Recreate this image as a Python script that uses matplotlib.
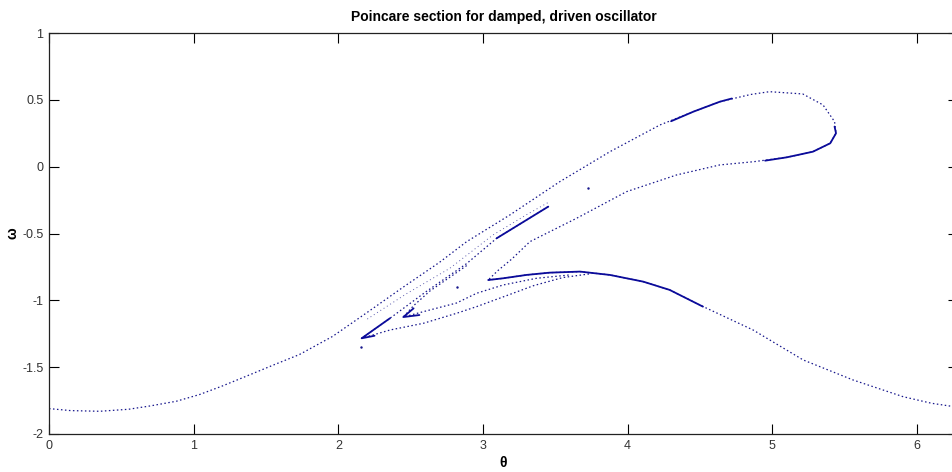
import matplotlib
matplotlib.use("Agg")
import matplotlib.pyplot as plt
import numpy as np

plt.rcParams['font.family'] = ['Liberation Sans', 'DejaVu Sans']

# ---- traced data (theta, omega) ----
# outer branch: from theta=0 up through the upper loop, back down to the first cusp
rise_theta = [0.00, 0.15, 0.35, 0.55, 0.70, 0.88, 1.04, 1.20, 1.39, 1.56, 1.73, 1.96,
              2.20, 2.45, 2.70, 2.887, 3.186, 3.531, 3.877, 4.223, 4.453, 4.637, 4.85,
              4.98, 5.21, 5.35, 5.43, 5.44, 5.40, 5.28, 5.10, 4.87, 4.637, 4.338, 3.992,
              3.647, 3.324, 3.20, 3.10, 3.036]
rise_omega = [-1.810, -1.825, -1.830, -1.815, -1.790, -1.755, -1.705, -1.640, -1.556,
              -1.480, -1.406, -1.270, -1.090, -0.900, -0.715, -0.561, -0.361, -0.112,
              0.112, 0.312, 0.411, 0.486, 0.540, 0.561, 0.544, 0.462, 0.337, 0.250,
              0.175, 0.112, 0.070, 0.037, 0.013, -0.062, -0.187, -0.386, -0.561, -0.690,
              -0.780, -0.848]

# bump: from first cusp to theta = 2*pi
bump_theta = [3.036, 3.14, 3.30, 3.46, 3.67, 3.877, 4.107, 4.29, 4.522, 4.867, 5.213,
              5.558, 5.904, 6.10, 6.283]
bump_omega = [-0.848, -0.835, -0.810, -0.793, -0.785, -0.810, -0.860, -0.922, -1.047,
              -1.222, -1.446, -1.596, -1.721, -1.770, -1.800]

# inner fold (third cusp): tip -> cusp -> lower return
fold3_theta = [3.451, 3.094, 2.887, 2.60, 2.357, 2.161, 2.357, 2.587, 2.817, 2.956,
               3.15, 3.35, 3.55, 3.75]
fold3_omega = [-0.299, -0.536, -0.725, -0.940, -1.134, -1.284, -1.222, -1.172, -1.097,
               -1.047, -0.970, -0.890, -0.830, -0.800]

# second cusp fold
fold2_theta = [2.887, 2.633, 2.52, 2.449, 2.587, 2.817, 2.956, 3.14, 3.37, 3.60]
fold2_omega = [-0.740, -0.930, -1.040, -1.125, -1.085, -1.020, -0.947, -0.885, -0.835,
               -0.810]

# faint strand between the outer branch and the inner fold
strand_theta = [2.20, 2.472, 2.771, 3.07, 3.30, 3.46]
strand_omega = [-1.140, -0.950, -0.760, -0.510, -0.360, -0.262]

# densely populated stretches
dense_segments = [
    ([3.036, 3.14, 3.30, 3.46, 3.67, 3.877, 4.107, 4.29, 4.52],
     [-0.848, -0.835, -0.810, -0.793, -0.785, -0.810, -0.860, -0.922, -1.047]),
    ([4.30, 4.453, 4.637, 4.72], [0.340, 0.411, 0.486, 0.510]),
    ([4.95, 5.10, 5.28, 5.40, 5.44, 5.43], [0.045, 0.070, 0.112, 0.175, 0.250, 0.300]),
    ([3.094, 3.451], [-0.536, -0.299]),
    ([2.357, 2.161, 2.25], [-1.134, -1.284, -1.265]),
    ([2.52, 2.449, 2.56], [-1.060, -1.125, -1.110]),
]

stray_theta = [3.727, 2.16, 2.82]
stray_omega = [-0.162, -1.35, -0.90]

x_ticks = [0, 1, 2, 3, 4, 5, 6]
x_tick_labels = ['0', '1', '2', '3', '4', '5', '6']
y_ticks = [-2, -1.5, -1, -0.5, 0, 0.5, 1]
y_tick_labels = ['-2', '-1.5', '-1', '-0.5', '0', '0.5', '1']

title_text = 'Poincare section for damped, driven oscillator'

# ---- drawing ----
fig = plt.figure(figsize=(9.53, 4.72), dpi=100)
ax = fig.add_axes([49/953, 1 - 434/472, (958 - 49)/953, (434 - 33)/472])

dot_color = '#16168c'
dense_color = '#0b0b9a'
dotted = (0, (1.2, 2.0))

for th, om in [(rise_theta, rise_omega), (bump_theta, bump_omega),
               (fold3_theta, fold3_omega), (fold2_theta, fold2_omega)]:
    ax.plot(th, om, color=dot_color, lw=0.9, linestyle=dotted)
ax.plot(strand_theta, strand_omega, color=dot_color, lw=0.7, linestyle=(0, (1, 3)), alpha=0.7)
for th, om in dense_segments:
    ax.plot(th, om, color=dense_color, lw=1.3, solid_capstyle='round')
ax.plot(stray_theta, stray_omega, linestyle='none', marker='.', ms=1.5, color=dot_color)

ax.set_xlim(0, 2 * np.pi)
ax.set_ylim(-2, 1)
ax.set_xticks(x_ticks)
ax.set_xticklabels(x_tick_labels)
ax.set_yticks(y_ticks)
ax.set_yticklabels(y_tick_labels)
ax.tick_params(direction='in', length=7, width=0.8, top=True, right=True,
               labelsize=9, labelcolor='#333333', pad=4)
for s in ax.spines.values():
    s.set_linewidth(0.9)
    s.set_color('#222222')

ax.set_title(title_text, fontsize=10, fontweight='bold', pad=9)
ax.set_xlabel('θ', fontsize=10, fontweight='bold', labelpad=3)
ax.set_ylabel('ω', fontsize=10, fontweight='bold', labelpad=2)

fig.savefig('out.png', dpi=100)
